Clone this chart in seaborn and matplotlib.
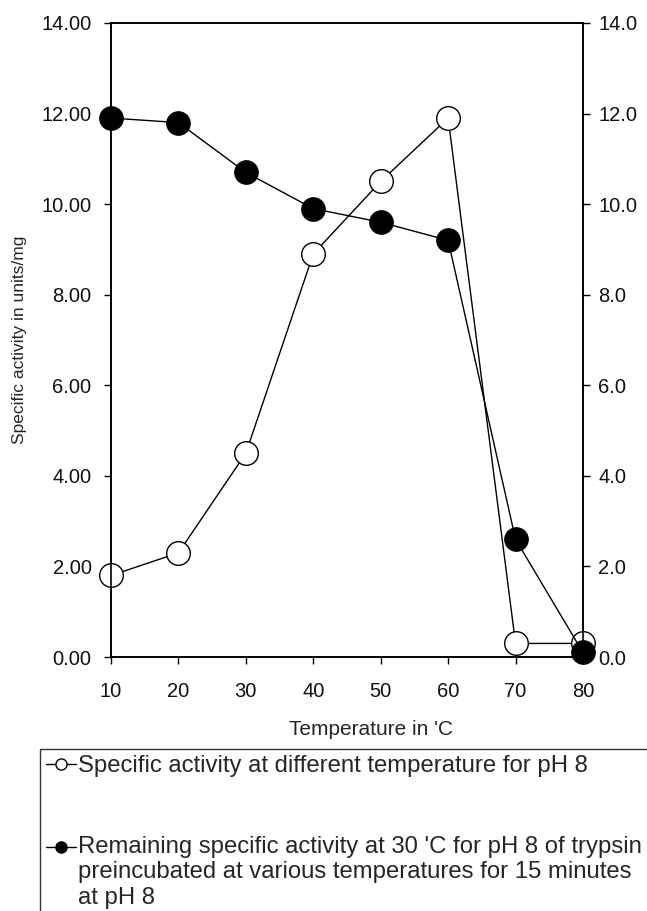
import numpy as np
import pandas as pd
import seaborn as sns
import matplotlib.pyplot as plt
from matplotlib.ticker import FormatStrFormatter

# values
temps = [10, 20, 30, 40, 50, 60, 70, 80]
activity_ph8 = [1.8, 2.3, 4.5, 8.9, 10.5, 11.9, 0.3, 0.3]
remaining_ph8 = [11.9, 11.8, 10.7, 9.9, 9.6, 9.2, 2.6, 0.1]

label_open = "Specific activity at different temperature for pH 8"
label_fill = ("Remaining specific activity at 30 'C for pH 8 of trypsin\n"
              "preincubated at various temperatures for 15 minutes\n"
              "at pH 8")

sns.set_style("white")
plt.rcParams['font.family'] = ['Liberation Sans', 'DejaVu Sans']

fig = plt.figure(figsize=(6.47, 9.11), dpi=100)
ax = fig.add_axes([0.1716, 0.2788, 0.7294, 0.696])

df = pd.DataFrame({'temp': temps, 'open': activity_ph8, 'fill': remaining_ph8})

sns.lineplot(data=df, x='temp', y='open', ax=ax, color='black', linewidth=1,
             marker='o', markersize=17, markerfacecolor='white',
             markeredgecolor='black', markeredgewidth=1, clip_on=False, zorder=3)
sns.lineplot(data=df, x='temp', y='fill', ax=ax, color='black', linewidth=1,
             marker='o', markersize=17, markerfacecolor='black',
             markeredgecolor='black', clip_on=False, zorder=4)

ax.set_xlim(10, 80)
ax.set_ylim(0, 14)
ax.set_xticks(temps)
ax.set_yticks(np.arange(0, 15, 2))
ax.yaxis.set_major_formatter(FormatStrFormatter('%.2f'))
ax.set_xlabel("Temperature in 'C", fontsize=15, labelpad=14)
ax.xaxis.label.set_x(0.55)
ax.set_ylabel("Specific activity in units/mg", fontsize=12.5, labelpad=10)

ax2 = ax.twinx()
ax2.set_ylim(0, 14)
ax2.set_yticks(np.arange(0, 15, 2))
ax2.yaxis.set_major_formatter(FormatStrFormatter('%.1f'))

for a in (ax, ax2):
    for s in a.spines.values():
        s.set_color('black')
        s.set_linewidth(1.2)
    a.tick_params(direction='out', length=5, width=1, color='black',
                  labelsize=14.5, labelcolor='#111111')
ax.tick_params(axis='x', bottom=True, pad=13)
ax.tick_params(axis='y', left=True, pad=9)
ax2.tick_params(axis='y', right=True, pad=6)

h_open = plt.Line2D([], [], color='black', linewidth=1, marker='o', markersize=8,
                    markerfacecolor='white', markeredgecolor='black')
h_fill = plt.Line2D([], [], color='black', linewidth=1, marker='o', markersize=8,
                    markerfacecolor='black', markeredgecolor='black')
# two blank lines keep the filled-circle handle level with the first text line
leg = fig.legend([h_open, h_fill], [label_open, "\n\n" + label_fill],
                 loc='upper left', bbox_to_anchor=(40 / 647, 1 - 749 / 911),
                 frameon=True, fancybox=False, fontsize=17.2, handlelength=1.25,
                 handletextpad=0.1, labelspacing=0.3, borderpad=0.25,
                 borderaxespad=0)
for t in leg.get_texts():
    t.set_linespacing(1.22)
leg.get_frame().set_edgecolor('black')
leg.get_frame().set_linewidth(1)

fig.savefig('out.png', dpi=100)
